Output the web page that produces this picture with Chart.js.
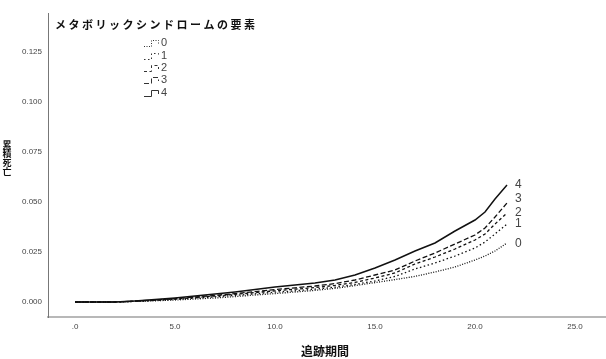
<!DOCTYPE html>
<html>
<head>
<meta charset="utf-8">
<script src="https://cdn.jsdelivr.net/npm/chart.js@4/dist/chart.umd.min.js"></script>
<style>
  body { margin: 0; background: #fff; }
  #wrap { width: 606px; height: 359px; position: relative; }
</style>
</head>
<body>
<div id="wrap"><canvas id="km-chart"></canvas></div>
<script>
// follow-up time (years)
var times = [0, 2, 3, 4, 5, 6, 7, 8, 9, 10, 11, 12, 13, 14, 15, 16, 17, 18, 19, 20, 20.5, 21, 21.6];

// cumulative death by number of metabolic syndrome components
var group0 = [0, 0, 0.0003, 0.0006, 0.001, 0.0015, 0.002, 0.0027, 0.0035, 0.0042, 0.005, 0.0058, 0.0068, 0.0082, 0.0097, 0.0112, 0.0128, 0.015, 0.0175, 0.021, 0.023, 0.0255, 0.0295];
var group1 = [0, 0, 0.0003, 0.0008, 0.0013, 0.0019, 0.0026, 0.0033, 0.0041, 0.0049, 0.0056, 0.0064, 0.0074, 0.0088, 0.0105, 0.0128, 0.0165, 0.0195, 0.023, 0.027, 0.030, 0.034, 0.039];
var group2 = [0, 0, 0.0004, 0.0009, 0.0015, 0.0022, 0.003, 0.0038, 0.0047, 0.0056, 0.0064, 0.0072, 0.0083, 0.0098, 0.012, 0.0145, 0.019, 0.0225, 0.0265, 0.031, 0.034, 0.039, 0.0445];
var group3 = [0, 0, 0.0004, 0.001, 0.0017, 0.0025, 0.0033, 0.0042, 0.0052, 0.0062, 0.0071, 0.008, 0.0092, 0.011, 0.0135, 0.016, 0.0205, 0.0245, 0.029, 0.0335, 0.037, 0.0425, 0.0495];
var group4 = [0, 0, 0.0005, 0.0012, 0.002, 0.003, 0.004, 0.005, 0.0062, 0.0075, 0.0085, 0.0095, 0.011, 0.0135, 0.017, 0.021, 0.0255, 0.0295, 0.0355, 0.041, 0.045, 0.0515, 0.0585];

var groupNames = ["0", "1", "2", "3", "4"];
var xTicks = [0, 5, 10, 15, 20, 25];
var yTicks = [0, 0.025, 0.05, 0.075, 0.1, 0.125];

var legendTitle = "メタボリックシンドロームの要素";
var xTitle = "追跡期間";
var yTitle = "累積死亡";

var dashes = [[1, 1.5], [1.5, 2.5], [3, 2.5], [5, 2.5], []];
var allGroups = [group0, group1, group2, group3, group4];

var datasets = allGroups.map(function(vals, i) {
  return {
    label: groupNames[i],
    data: times.map(function(t, j) { return {x: t, y: vals[j]}; }),
    borderColor: "#111",
    borderWidth: i == 4 ? 1.5 : 1.3,
    borderDash: dashes[i],
    pointRadius: 0,
    tension: 0,
    fill: false
  };
});

var jpFont = '"Noto Sans CJK JP", sans-serif';

// titles, legend and end labels
var decorations = {
  id: "decorations",
  afterDraw: function(chart) {
    var ctx = chart.ctx;
    ctx.save();
    ctx.fillStyle = "#111";
    ctx.font = "bold 11px " + jpFont;
    ctx.textBaseline = "middle";
    ctx.textAlign = "left";
    ctx.letterSpacing = "2.5px";
    ctx.fillText(legendTitle, 55, 25);
    ctx.letterSpacing = "0px";

    // y title, characters stacked
    ctx.textAlign = "center";
    ctx.font = "bold 9px " + jpFont;
    for (var k = 0; k < yTitle.length; k++) {
      ctx.fillText(yTitle[k], 7, 145 + k * 9);
    }
    ctx.font = "bold 12px " + jpFont;
    ctx.fillText(xTitle, 325, 351);

    // legend entries
    var legY = [43, 56, 68, 80, 93];
    ctx.font = "11px 'Liberation Sans', Arial, sans-serif";
    ctx.textAlign = "left";
    for (var i = 0; i < groupNames.length; i++) {
      var y = legY[i];
      ctx.strokeStyle = "#333";
      ctx.lineWidth = 1;
      ctx.setLineDash(dashes[i]);
      ctx.beginPath();
      ctx.moveTo(144, y + 3.5);
      ctx.lineTo(151.5, y + 3.5);
      ctx.lineTo(151.5, y - 2.5);
      ctx.lineTo(158.5, y - 2.5);
      ctx.lineTo(158.5, y + 1);
      ctx.stroke();
      ctx.fillStyle = "#444";
      ctx.fillText(groupNames[i], 161, y);
    }
    ctx.setLineDash([]);

    // labels at the end of the curves
    var xs = chart.scales.x, ys = chart.scales.y;
    var endNudge = [1, 0, 0, -4, 0];
    ctx.font = "12px 'Liberation Sans', Arial, sans-serif";
    ctx.fillStyle = "#444";
    for (var i = 0; i < allGroups.length; i++) {
      var last = allGroups[i].length - 1;
      var px = xs.getPixelForValue(times[last]) + 8;
      var py = ys.getPixelForValue(allGroups[i][last]) + endNudge[i];
      ctx.fillText(groupNames[i], px, py);
    }
    ctx.restore();
  }
};

new Chart("km-chart", {
  type: "line",
  data: { datasets: datasets },
  plugins: [decorations],
  options: {
    responsive: true,
    maintainAspectRatio: false,
    animation: false,
    layout: { padding: { top: 13, right: 0, left: 0, bottom: 0 } },
    plugins: {
      legend: { display: false },
      tooltip: { enabled: false }
    },
    scales: {
      x: {
        type: "linear",
        min: -1.35,
        max: 26.55,
        afterBuildTicks: function(axis) {
          axis.ticks = xTicks.map(function(v) { return {value: v}; });
        },
        afterFit: function(axis) { axis.height = 42; },
        grid: { drawOnChartArea: false, drawTicks: false },
        border: { color: "#b8b8b8", width: 2 },
        ticks: {
          padding: 5,
          maxRotation: 0,
          color: "#444",
          font: { family: "'Liberation Sans', Arial, sans-serif", size: 8 },
          callback: function(v) { return v == 0 ? ".0" : v.toFixed(1); }
        }
      },
      y: {
        type: "linear",
        min: -0.0075,
        max: 0.1445,
        afterBuildTicks: function(axis) {
          axis.ticks = yTicks.map(function(v) { return {value: v}; });
        },
        afterFit: function(axis) { axis.width = 48; },
        grid: { drawOnChartArea: false, drawTicks: false },
        border: { color: "#777", width: 1 },
        ticks: {
          padding: 6,
          color: "#444",
          font: { family: "'Liberation Sans', Arial, sans-serif", size: 8 },
          callback: function(v) { return v.toFixed(3); }
        }
      }
    }
  }
});
</script>
</body>
</html>
